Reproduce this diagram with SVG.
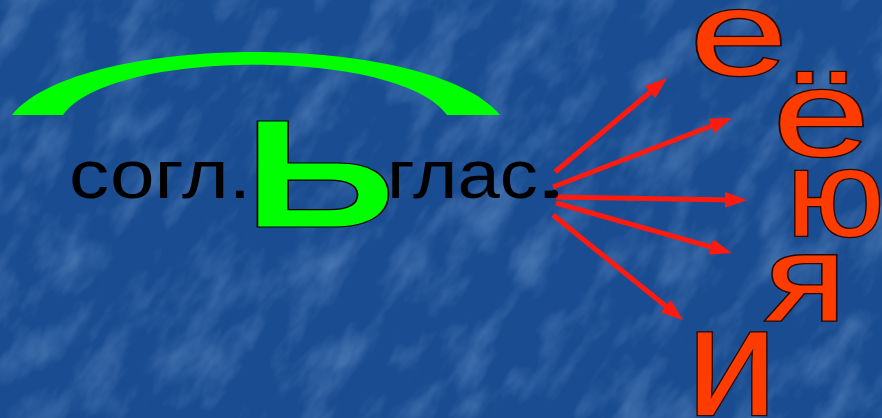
<svg xmlns="http://www.w3.org/2000/svg" width="882" height="418" viewBox="0 0 882 418">
<defs>
<style>
.blk{font-family:"Liberation Sans",Arial,sans-serif;font-size:68px;fill:#000}
.v{font-family:"Liberation Sans",Arial,sans-serif;fill:#ff3c00;stroke:#2a0800;stroke-width:2.6;paint-order:stroke}
.arr{stroke:#ff1a10;stroke-width:5;fill:none;marker-end:url(#ah)}
</style>
<marker id="ah" markerUnits="userSpaceOnUse" markerWidth="22" markerHeight="16" refX="8" refY="8" orient="auto">
<path d="M0,0 L22,8 L0,16 z" fill="#ff1a10"/>
</marker>
<filter id="tex" x="0" y="0" width="100%" height="100%">
<feTurbulence type="fractalNoise" baseFrequency="0.014 0.03" numOctaves="4" seed="7"/>
<feColorMatrix type="matrix" values="0 0 0 0 0.28  0 0 0 0 0.48  0 0 0 0 0.78  0 0 0 0.8 -0.36"/>
</filter>
</defs>
<rect width="882" height="418" fill="#1a4c91"/>
<g transform="rotate(-55 441 209)"><rect x="-300" y="-300" width="1500" height="1000" filter="url(#tex)"/></g>
<g id="arc"><path d="M12,115 C80,31 430,31 500,115 L447,115 C400,48 110,48 63,115 Z" fill="#00ff00"/></g>
<g id="text-left"><text class="blk" x="69" y="198" textLength="182" lengthAdjust="spacingAndGlyphs">согл.</text></g>
<g id="text-right"><text class="blk" x="387" y="198" textLength="172" lengthAdjust="spacingAndGlyphs">глас.</text></g>
<g id="soft-sign"><text transform="translate(257,227) scale(1.38,1)" x="-10" y="0" font-family="Liberation Sans,Arial,sans-serif" font-weight="bold" font-size="154" fill="#00ff00" stroke="#000" stroke-width="1.2">Ь</text></g>
<g id="connectors">
<path class="arr" d="M555,172 L656.3,87"/>
<path class="arr" d="M553,187 L718.9,123"/>
<path class="arr" d="M556,197 L733,199.9"/>
<path class="arr" d="M556,203 L718.5,249.2"/>
<path class="arr" d="M553,215 L672.1,311.2"/>
<circle cx="554" cy="194" r="4" fill="#000"/>
</g>
<g id="v-e"><text class="v" transform="translate(697,75) scale(1.47,1)" x="-5" font-size="120">е</text></g>
<g id="v-yo"><text class="v" transform="translate(780,156) scale(1.43,1)" x="-5" font-size="122">ё</text></g>
<g id="v-yu"><text class="v" transform="translate(795,236) scale(1.07,1)" x="-8" font-size="122">ю</text></g>
<g id="v-ya"><text class="v" transform="translate(767,320) scale(1.24,1)" x="-2" font-size="122">я</text></g>
<g id="v-i"><text class="v" transform="translate(697,415) scale(1.05,1)" x="-10" font-size="155">и</text></g>
</svg>
